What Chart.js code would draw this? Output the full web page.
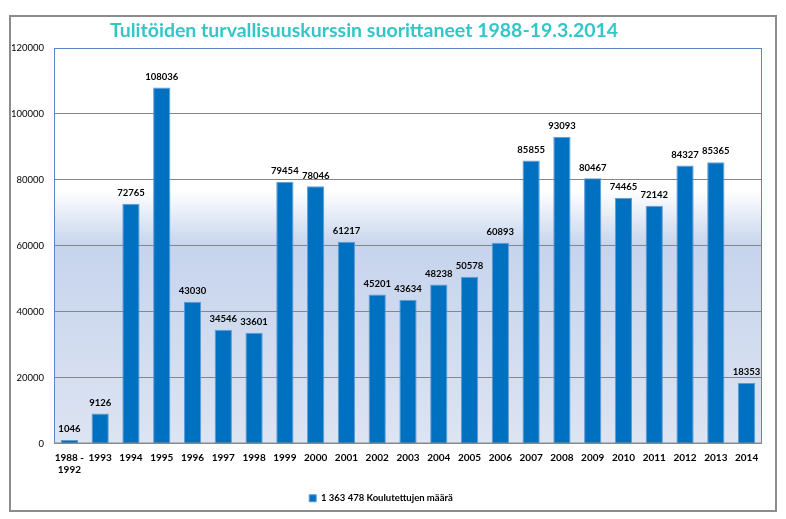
<!DOCTYPE html>
<html>
<head>
<meta charset="utf-8">
<script src="https://cdn.jsdelivr.net/npm/chart.js@4/dist/chart.umd.min.js"></script>
<style>
  html, body { margin: 0; padding: 0; background: #fff; }
  #wrap { position: relative; width: 786px; height: 519px; }
</style>
</head>
<body>
<div id="wrap"><canvas id="chart" width="786" height="519"></canvas></div>
<script>
/* --------------- Data --------------------- */
const years = [
  ["1988 -", "1992"], "1993", "1994", "1995", "1996", "1997", "1998", "1999",
  "2000", "2001", "2002", "2003", "2004", "2005", "2006", "2007", "2008",
  "2009", "2010", "2011", "2012", "2013", "2014",
];
const trained = [
  1046, 9126, 72765, 108036, 43030, 34546, 33601, 79454, 78046, 61217, 45201,
  43634, 48238, 50578, 60893, 85855, 93093, 80467, 74465, 72142, 84327, 85365,
  18353,
];
const seriesName = "1 363 478 Koulutettujen määrä";
const chartTitle = "Tulitöiden turvallisuuskurssin suorittaneet 1988-19.3.2014";
const yTicks = [0, 20000, 40000, 60000, 80000, 100000, 120000];

const FONT = "Lato, 'Open Sans', sans-serif";

/* --------------- Plot background, frame, title --------------------- */
const backdrop = {
  id: "backdrop",
  beforeDraw(chart) {
    const { ctx, chartArea: a } = chart;
    ctx.save();
    // outer frame
    ctx.strokeStyle = "#8c8c8c";
    ctx.lineWidth = 2;
    ctx.strokeRect(10, 16, 766, 495);
    // title
    ctx.font = "bold 19.5px " + FONT;
    ctx.fillStyle = "#33c6c9";
    ctx.textAlign = "center";
    ctx.textBaseline = "middle";
    ctx.fillText(chartTitle, 364, 31);
    // gradient fill of the plot area
    const g = ctx.createLinearGradient(0, a.top, 0, a.bottom);
    g.addColorStop(0, "#ffffff");
    g.addColorStop(0.36, "#ffffff");
    g.addColorStop(0.5, "#c6d4ed");
    g.addColorStop(1, "#dde4f2");
    ctx.fillStyle = g;
    ctx.fillRect(a.left, a.top, a.right - a.left, a.bottom - a.top);
    ctx.restore();
  },
  afterDatasetsDraw(chart) {
    const { ctx, chartArea: a } = chart;
    ctx.save();
    ctx.strokeStyle = "#5b84c4";
    ctx.lineWidth = 1;
    ctx.beginPath();
    ctx.moveTo(a.left + 0.5, a.bottom);
    ctx.lineTo(a.left + 0.5, a.top + 0.5);
    ctx.lineTo(a.right - 0.5, a.top + 0.5);
    ctx.lineTo(a.right - 0.5, a.bottom);
    ctx.stroke();
    ctx.strokeStyle = "#8c8c8c";
    ctx.beginPath();
    ctx.moveTo(a.left, a.bottom - 0.5);
    ctx.lineTo(a.right, a.bottom - 0.5);
    ctx.stroke();
    ctx.restore();
  },
};

/* --------------- Value labels above bars --------------------- */
const barValues = {
  id: "barValues",
  afterDatasetsDraw(chart) {
    const { ctx } = chart;
    const meta = chart.getDatasetMeta(0);
    ctx.save();
    ctx.font = "bold 9.5px " + FONT;
    ctx.fillStyle = "#000";
    ctx.textAlign = "center";
    ctx.textBaseline = "bottom";
    meta.data.forEach((bar, i) => {
      ctx.fillText(String(trained[i]), bar.x, bar.y - 6);
    });
    ctx.restore();
  },
};

new Chart(document.getElementById("chart"), {
  type: "bar",
  plugins: [backdrop, barValues],
  data: {
    labels: years,
    datasets: [
      {
        label: seriesName,
        data: trained,
        backgroundColor: "#0070c0",
        borderColor: "#5d9bd8",
        borderWidth: 1,
        categoryPercentage: 1,
        barPercentage: 0.56,
      },
    ],
  },
  options: {
    responsive: false,
    animation: false,
    layout: { padding: { left: 0, right: 24, top: 48, bottom: 6 } },
    plugins: {
      tooltip: { enabled: false },
      title: { display: false },
      legend: {
        position: "bottom",
        labels: {
          color: "#000",
          font: { family: FONT, size: 9.5, weight: "bold" },
          boxWidth: 7,
          boxHeight: 7,
          padding: 10,
        },
      },
    },
    scales: {
      x: {
        grid: { display: false, drawTicks: false },
        border: { display: false },
        ticks: {
          color: "#000",
          font: { family: FONT, size: 10, weight: "bold" },
          maxRotation: 0,
          autoSkip: false,
          padding: 8,
        },
        afterFit(s) { s.height = 40; },
      },
      y: {
        min: 0,
        max: 120000,
        afterBuildTicks(s) { s.ticks = yTicks.map((v) => ({ value: v })); },
        grid: { color: "#868686", drawTicks: false },
        border: { display: false },
        ticks: {
          color: "#000",
          font: { family: FONT, size: 9.5 },
          padding: 10,
          callback: (v) => String(v),
        },
        afterFit(s) { s.width = 54; },
      },
    },
  },
});
</script>
</body>
</html>
